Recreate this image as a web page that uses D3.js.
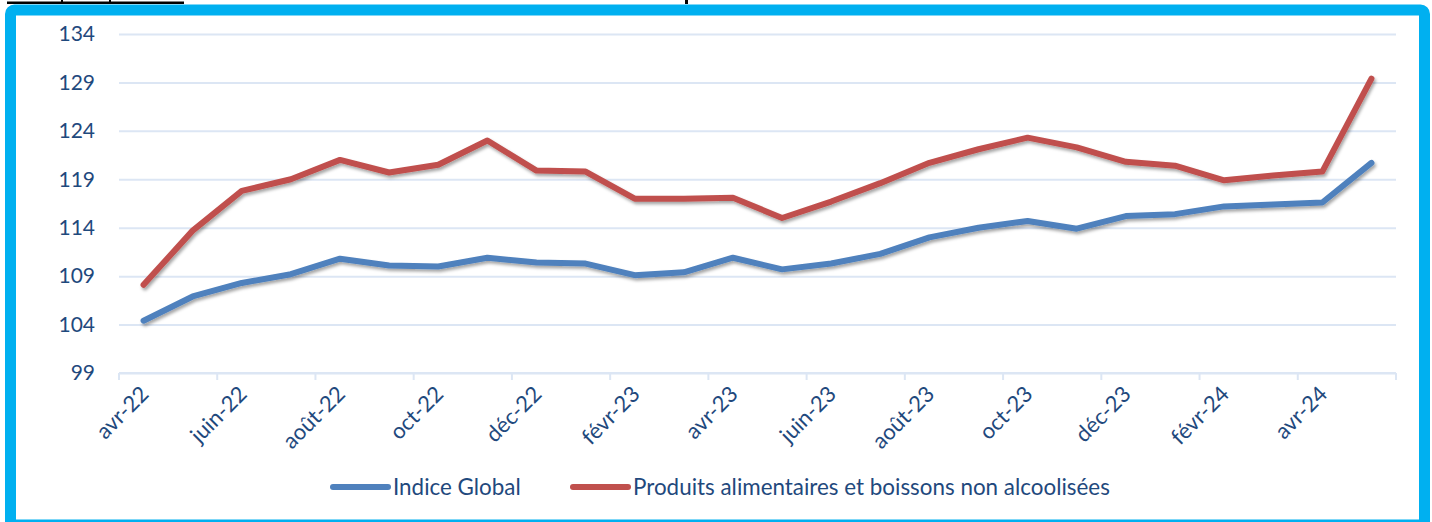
<!DOCTYPE html>
<html>
<head>
<meta charset="utf-8">
<script src="https://cdn.jsdelivr.net/npm/d3@7"></script>
<style>
  body { margin: 0; background: #ffffff; }
  svg { display: block; }
  .tick text { font-family: Lato, "Open Sans", sans-serif; fill: #1F497D; }
</style>
</head>
<body>
<div id="chart"></div>
<script>
//Months of the x axis (every other one gets a label)
var months = ["avr-22","mai-22","juin-22","juil-22","août-22","sept-22","oct-22","nov-22","déc-22","janv-23",
              "févr-23","mars-23","avr-23","mai-23","juin-23","juil-23","août-23","sept-23","oct-23","nov-23",
              "déc-23","janv-24","févr-24","mars-24","avr-24","mai-24"]

//Values
var indiceGlobal = [104.4,106.9,108.3,109.2,110.8,110.1,110.0,110.9,110.4,110.3,
                    109.1,109.4,110.9,109.7,110.3,111.3,113.0,114.0,114.7,113.9,
                    115.2,115.4,116.2,116.4,116.6,120.7]
var produitsAlim = [108.1,113.7,117.8,119.0,121.0,119.7,120.5,123.0,119.9,119.8,
                    117.0,117.0,117.1,115.0,116.7,118.6,120.7,122.1,123.3,122.3,
                    120.8,120.4,118.9,119.4,119.8,129.4]

var yTicks = [99,104,109,114,119,124,129,134]
var seriesNames = ["Indice Global","Produits alimentaires et boissons non alcoolisées"]
var seriesColors = ["#4F81BD","#C0504D"]

var width = 1432
var height = 522

var svg = d3.select("#chart")
            .append("svg")
            .attr("width", width)
            .attr("height", height)

//Drop shadow under the lines
var defs = svg.append("defs")
var shadow = defs.append("filter")
                 .attr("id","shadow")
                 .attr("x","-5%").attr("y","-20%")
                 .attr("width","110%").attr("height","140%")
shadow.append("feDropShadow")
      .attr("dx",1.5).attr("dy",2.5)
      .attr("stdDeviation",1.5)
      .attr("flood-color","#000000")
      .attr("flood-opacity",0.35)

//Bits of the title above the frame (cut off)
svg.append("rect").attr("x",7).attr("y",1.5).attr("width",177).attr("height",2.5).attr("fill","#000")
svg.append("rect").attr("x",61).attr("y",0).attr("width",2).attr("height",2).attr("fill","#000")
svg.append("rect").attr("x",109).attr("y",0).attr("width",2).attr("height",2).attr("fill","#000")
svg.append("rect").attr("x",685).attr("y",0).attr("width",3).attr("height",4).attr("fill","#000")

//Blue frame
svg.append("rect")
   .attr("x",10.5).attr("y",10)
   .attr("width",1414).attr("height",515)
   .attr("rx",4)
   .attr("fill","#ffffff")
   .attr("stroke","#00B0F0")
   .attr("stroke-width",11)

var margin = {top: 34, left: 119, right: 36, bottom: 149}

//Scales
var xScale = d3.scaleBand()
               .domain(months)
               .range([margin.left, width - margin.right])
               .padding(0)

var yScale = d3.scaleLinear()
               .domain([99,134])
               .range([height - margin.bottom, margin.top])

//Horizontal grid lines
svg.append("g")
   .attr("class","grid")
   .attr("transform","translate(" + margin.left + ",0)")
   .call(d3.axisLeft(yScale)
           .tickValues(yTicks)
           .tickSize(-(width - margin.right - margin.left))
           .tickFormat(""))
   .call(function(g){
     g.select(".domain").remove()
     g.selectAll("line").attr("stroke","#DCE6F4").attr("stroke-width",2)
   })

//Y axis labels
svg.append("g")
   .attr("class","y axis")
   .attr("transform","translate(" + margin.left + ",0)")
   .call(d3.axisLeft(yScale).tickValues(yTicks).tickSize(0).tickPadding(24))
   .call(function(g){
     g.select(".domain").remove()
     g.selectAll("text").attr("font-size",21)
   })

//X axis: ticks between every second month
var tickMonths = months.filter(function(d,i){ return i % 2 == 0 })
var xAxisY = yScale(99)
var xAxis = svg.append("g").attr("class","x axis")

xAxis.append("line")
     .attr("x1", xScale.range()[0]).attr("x2", xScale.range()[1])
     .attr("y1", xAxisY).attr("y2", xAxisY)
     .attr("stroke","#DCE6F4").attr("stroke-width",2)

var tickPos = tickMonths.map(function(d){ return xScale(d) })
tickPos.push(xScale.range()[1])
xAxis.selectAll(".xtick")
     .data(tickPos)
     .enter()
     .append("line")
     .attr("x1",function(d){ return d }).attr("x2",function(d){ return d })
     .attr("y1", xAxisY).attr("y2", xAxisY + 7)
     .attr("stroke","#DCE6F4").attr("stroke-width",2)

xAxis.selectAll(".xlabel")
     .data(tickMonths)
     .enter()
     .append("text")
     .attr("class","xlabel")
     .attr("transform",function(d){
       return "translate(" + (xScale(d) + xScale.bandwidth()/2 + 1) + "," + (xAxisY + 17) + ") rotate(-45)"
     })
     .attr("text-anchor","end")
     .attr("dy","0.35em")
     .attr("font-family","Lato, 'Open Sans', sans-serif")
     .attr("font-size",22)
     .attr("fill","#1F497D")
     .text(function(d){ return d })

//Lines
var line = d3.line()
             .x(function(d,i){ return xScale(months[i]) + xScale.bandwidth()/2 })
             .y(function(d){ return yScale(d) })

var allSeries = [indiceGlobal, produitsAlim]
svg.selectAll(".serie")
   .data(allSeries)
   .enter()
   .append("path")
   .attr("class","serie")
   .attr("d", line)
   .attr("fill","none")
   .attr("stroke",function(d,i){ return seriesColors[i] })
   .attr("stroke-width",6)
   .attr("stroke-linejoin","round")
   .attr("stroke-linecap","round")
   .attr("filter","url(#shadow)")

//Legend
var legendX = [333, 573]
var legend = svg.selectAll(".legend")
                .data(seriesNames)
                .enter()
                .append("g")
                .attr("class","legend")
                .attr("transform",function(d,i){ return "translate(" + legendX[i] + ",487)" })

legend.append("line")
      .attr("x1",0).attr("x2",55)
      .attr("y1",0).attr("y2",0)
      .attr("stroke",function(d,i){ return seriesColors[i] })
      .attr("stroke-width",6)
      .attr("stroke-linecap","round")

legend.append("text")
      .attr("x",60)
      .attr("dy","0.35em")
      .attr("font-family","Lato, 'Open Sans', sans-serif")
      .attr("font-size",22.4)
      .attr("fill","#1F497D")
      .text(function(d){ return d })
</script>
</body>
</html>
